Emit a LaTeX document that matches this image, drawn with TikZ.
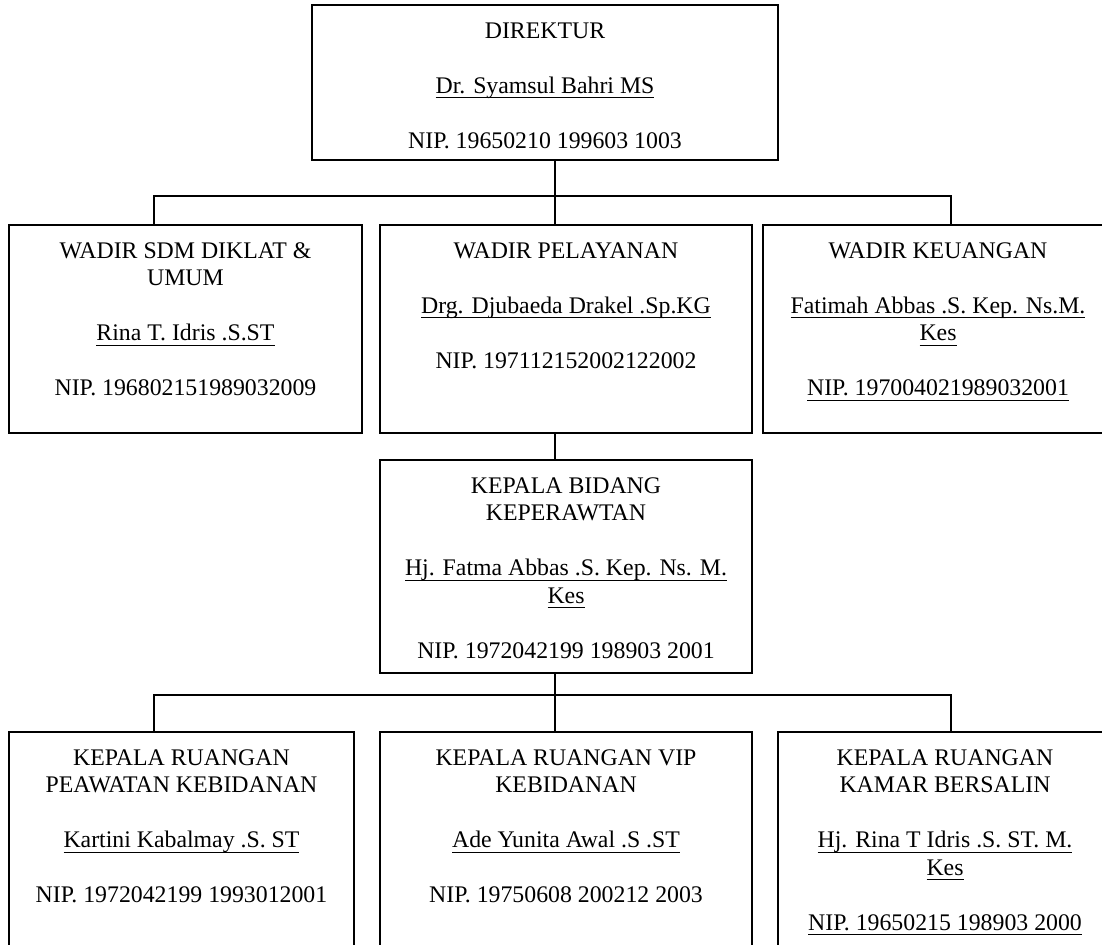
\documentclass[tikz,border=0pt]{standalone}
\usepackage{fontspec}
\setmainfont{Liberation Serif}

\newcommand{\nameline}[1]{\leavevmode\setbox0=\hbox{#1}\rlap{\rule[-2.6pt]{\wd0}{0.6pt}}\box0}
\newcommand{\gap}{\\[13.75pt]}
\newcommand{\orgtext}[3]{\parbox[c][#2][t]{#1}{\centering\fontsize{11.9pt}{13.75pt}\selectfont\vspace*{6.9pt}\strut#3}}

\begin{document}
\begin{tikzpicture}[x=0.5pt,y=-0.5pt,
  orgbox/.style={draw,line width=1pt,inner sep=0pt,anchor=north west},
  link/.style={line width=1pt}]
\useasboundingbox (0,0) rectangle (1102,944);
\clip (0,0) rectangle (1102,944);

% direktur
\node[orgbox] (dir) at (311,4) {\orgtext{233pt}{77.5pt}{DIREKTUR\gap\nameline{Dr. Syamsul Bahri MS}\gap NIP. 19650210 199603 1003}};

% wakil direktur
\node[orgbox] (wsdm) at (8,224) {\orgtext{176.5pt}{104pt}{WADIR SDM DIKLAT \&\\UMUM\gap\nameline{Rina T. Idris .S.ST}\gap NIP. 196802151989032009}};
\node[orgbox] (wpel) at (379,224) {\orgtext{186pt}{104pt}{WADIR PELAYANAN\gap\nameline{Drg. Djubaeda Drakel .Sp.KG}\gap NIP. 197112152002122002}};
\node[orgbox] (wkeu) at (762,224) {\orgtext{175pt}{104pt}{WADIR KEUANGAN\gap\nameline{Fatimah Abbas .S. Kep. Ns.M.}\\\nameline{Kes}\gap\nameline{NIP. 197004021989032001}}};

% kepala bidang
\node[orgbox] (kbid) at (379,459) {\orgtext{186pt}{106.5pt}{KEPALA BIDANG\\KEPERAWTAN\gap\nameline{Hj. Fatma Abbas .S. Kep. Ns. M.}\\\nameline{Kes}\gap NIP. 1972042199 198903 2001}};

% kepala ruangan
\node[orgbox] (kru1) at (8,731) {\orgtext{172.5pt}{112.5pt}{KEPALA RUANGAN\\PEAWATAN KEBIDANAN\gap\nameline{Kartini Kabalmay .S. ST}\gap NIP. 1972042199 1993012001}};
\node[orgbox] (kru2) at (379,731) {\orgtext{186pt}{112.5pt}{KEPALA RUANGAN VIP\\KEBIDANAN\gap\nameline{Ade Yunita Awal .S .ST}\gap NIP. 19750608 200212 2003}};
\node[orgbox] (kru3) at (777,731) {\orgtext{167pt}{112.5pt}{KEPALA RUANGAN\\KAMAR BERSALIN\gap\nameline{Hj. Rina T Idris .S. ST. M.}\\\nameline{Kes}\gap\nameline{NIP. 19650215 198903 2000}}};

% garis
\coordinate (spine) at (555,0);
\coordinate (busA) at (154,196);
\coordinate (busB) at (951,196);
\coordinate (busC) at (154,695);
\coordinate (busD) at (951,695);
\draw[link] (dir.south -| spine) -- (wpel.north -| spine);
\draw[link] (wsdm.north -| busA) -- (busA) -- (busB) -- (wkeu.north -| busB);
\draw[link] (wpel.south -| spine) -- (kbid.north -| spine);
\draw[link] (kbid.south -| spine) -- (kru2.north -| spine);
\draw[link] (kru1.north -| busC) -- (busC) -- (busD) -- (kru3.north -| busD);

\end{tikzpicture}
\end{document}
